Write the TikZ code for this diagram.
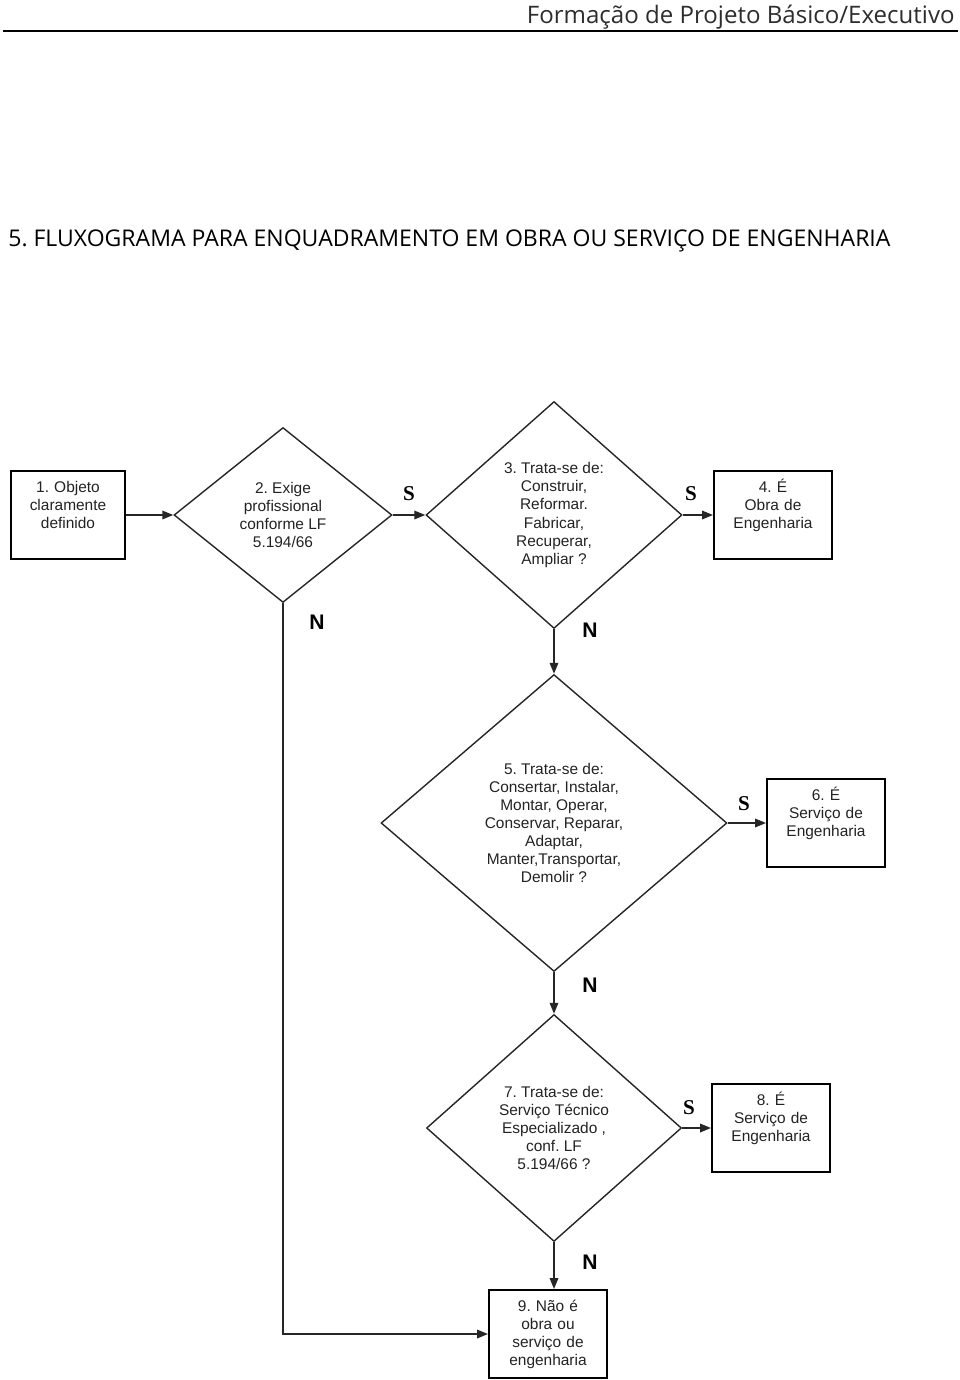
\documentclass[tikz,border=0pt]{standalone}
\usepackage{fontspec}
\setmainfont{Liberation Sans}
\newfontfamily\headfont{Open Sans}
\newfontfamily\labelserif{Liberation Serif}
\usetikzlibrary{shapes.geometric, arrows.meta, positioning}
\frenchspacing

\definecolor{inkgray}{RGB}{35, 35, 35}
\definecolor{headgray}{RGB}{45, 45, 45}

\tikzset{
  procbox/.style={draw=black, line width=1.1pt, inner sep=0pt, align=center,
    text width=2.36cm, minimum width=2.36cm, minimum height=1.76cm,
    text height=0.43cm, text depth=1.33cm,
    font=\fontsize{8.8}{10.3}\selectfont, text=inkgray},
  decision/.style={diamond, draw=black!85, line width=0.8pt, inner sep=0pt, align=center,
    font=\fontsize{8.8}{10.3}\selectfont, text=inkgray},
  flow/.style={draw=black!85, line width=1pt, -{Triangle[length=2.2mm, width=1.7mm]}},
  yeslbl/.style={font=\labelserif\bfseries\fontsize{12}{12}\selectfont},
  nolbl/.style={font=\bfseries\fontsize{12}{12}\selectfont},
}

\begin{document}
\begin{tikzpicture}[x=0.02cm, y=-0.02cm]
  \useasboundingbox (0,0) rectangle (960,1380);

  % Page header
  \node[font=\headfont\fontsize{13.7}{13.7}\selectfont, text=headgray, anchor=base east, inner sep=0pt] (head) at (955,23) {Formação de Projeto Básico/Executivo};
  \draw[line width=0.9pt] (3,31) -- (958,31);
  \node[font=\headfont\fontsize{13.1}{13.1}\selectfont, anchor=base west, inner sep=0pt] (title) at (8,246) {5. FLUXOGRAMA PARA ENQUADRAMENTO EM OBRA OU SERVIÇO DE ENGENHARIA};

  % Boxes
  \node[procbox, text width=2.28cm, minimum width=2.28cm] (obj) at (68,515) {1. Objeto\\claramente\\definido};
  \node[procbox] (obra) at (773,515) {4. É\\Obra de\\Engenharia};
  \node[procbox] (serv6) at (826,823) {6. É\\Serviço de\\Engenharia};
  \node[procbox] (serv8) at (771,1128) {8. É\\Serviço de\\Engenharia};
  \node[procbox] (nao) at (548,1334) {9. Não é\\obra ou\\serviço de\\engenharia};

  % Decisions
  \node[decision, minimum width=4.36cm, minimum height=3.5cm] (exige) at (283,515) {2. Exige\\profissional\\conforme LF\\5.194/66};
  \node[decision, minimum width=5.12cm, minimum height=4.54cm] (trata3) at (554,515) {3. Trata-se de:\\Construir,\\Reformar.\\Fabricar,\\Recuperar,\\Ampliar ?};
  \node[decision, minimum width=6.92cm, minimum height=5.94cm] (trata5) at (554,823) {5. Trata-se de:\\Consertar, Instalar,\\Montar, Operar,\\Conservar, Reparar,\\Adaptar,\\Manter,Transportar,\\Demolir ?};
  \node[decision, minimum width=5.1cm, minimum height=4.54cm] (trata7) at (554,1128) {7. Trata-se de:\\Serviço Técnico\\Especializado ,\\conf. LF\\5.194/66 ?};

  % Connectors
  \draw[flow] (obj.east) -- (obj.east -| exige.west);
  \draw[flow] (exige.east) -- (exige.east -| trata3.west);
  \draw[flow] (trata3.east) -- (trata3.east -| obra.west);
  \draw[flow] (trata3.south) -- (trata5.north);
  \draw[flow] (trata5.east) -- (trata5.east -| serv6.west);
  \draw[flow] (trata5.south) -- (trata7.north);
  \draw[flow] (trata7.east) -- (trata7.east -| serv8.west);
  \draw[flow] (trata7.south) -- (trata7.south |- nao.north);
  \draw[flow] (exige.south) |- (nao.west);

  % S / N labels
  \node[yeslbl] (s2) at (409,494) {S};
  \node[yeslbl] (s3) at (691,494) {S};
  \node[yeslbl] (s5) at (744,804) {S};
  \node[yeslbl] (s7) at (689,1108) {S};
  \node[nolbl] (n2) at (317,622) {N};
  \node[nolbl] (n3) at (590,630) {N};
  \node[nolbl] (n5) at (590,985) {N};
  \node[nolbl] (n7) at (590,1262) {N};
\end{tikzpicture}
\end{document}
